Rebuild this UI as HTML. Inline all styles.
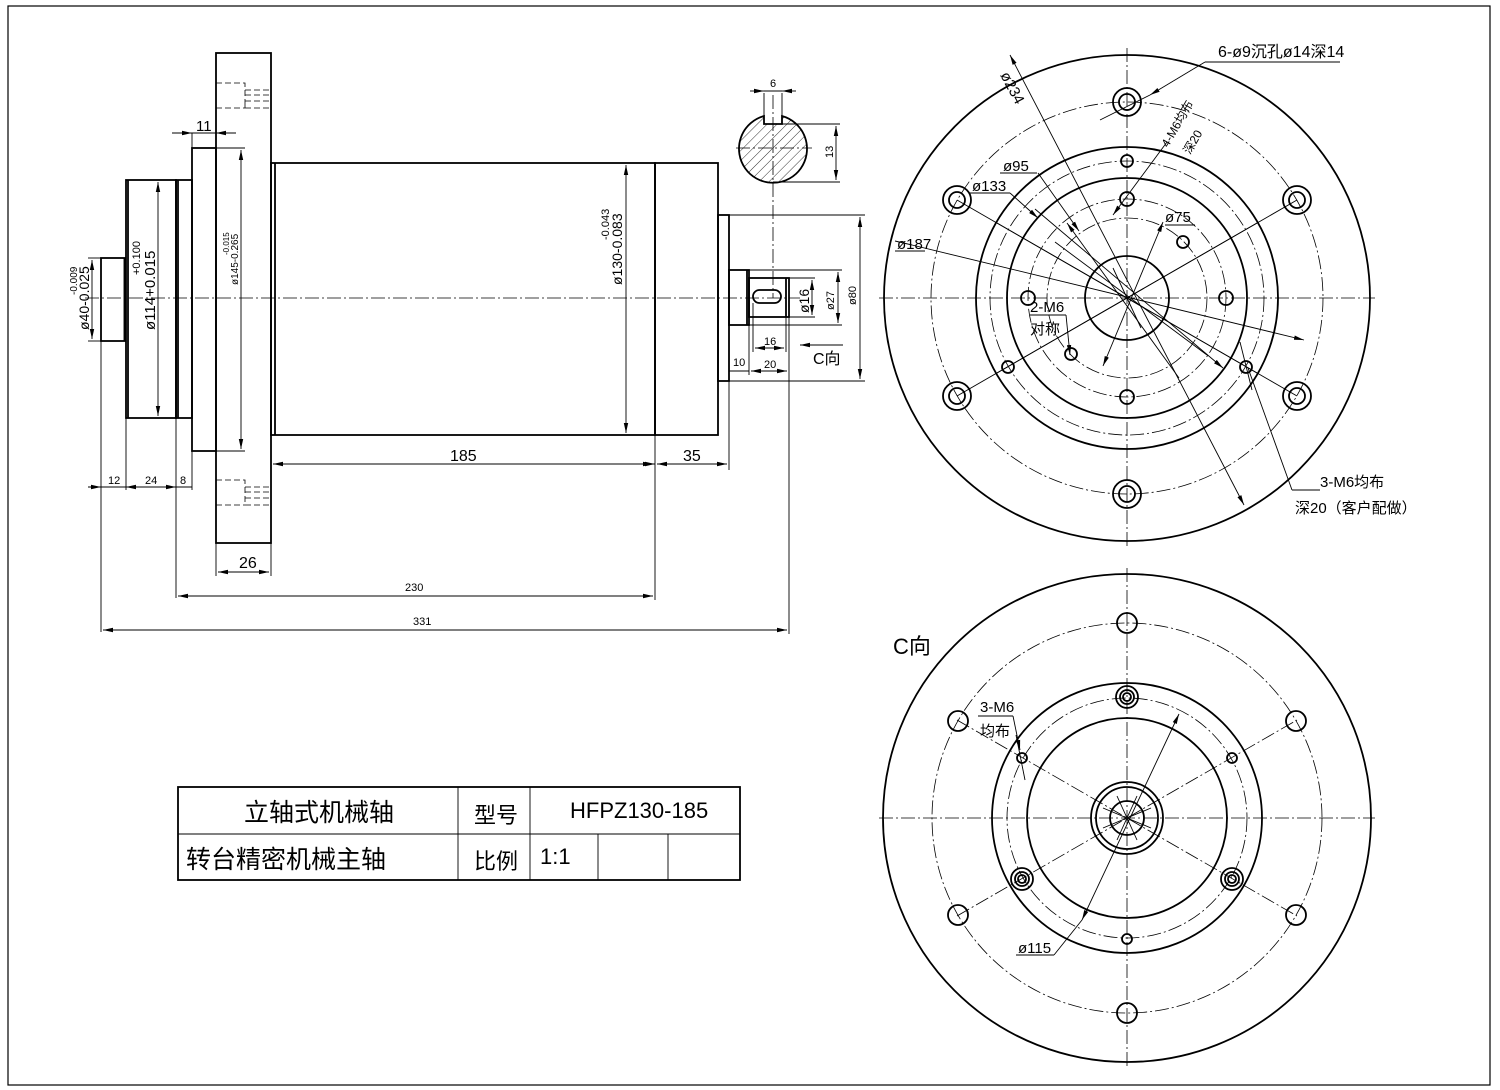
<!DOCTYPE html>
<html><head><meta charset="utf-8"><style>
html,body{margin:0;padding:0;background:#fff}
svg{display:block}
text{font-family:"Liberation Sans Narrow","Liberation Sans","Noto Sans CJK SC",sans-serif;fill:#000}
.o{stroke:#000;stroke-width:1.8;fill:none}
.t{stroke:#000;stroke-width:0.9;fill:none}
.c{stroke:#000;stroke-width:0.8;fill:none;stroke-dasharray:14,3,2,3}
.h{stroke:#000;stroke-width:0.8;fill:none;stroke-dasharray:6,3}
</style></head><body>
<svg width="1500" height="1090" viewBox="0 0 1500 1090" xmlns="http://www.w3.org/2000/svg">
<defs>
<marker id="a" viewBox="0 0 10 6" refX="10" refY="3" markerWidth="10" markerHeight="6" orient="auto-start-reverse" markerUnits="userSpaceOnUse"><path d="M0,0.8 L10,3 L0,5.2z" fill="#000"/></marker>
<pattern id="hp" width="7" height="7" patternUnits="userSpaceOnUse" patternTransform="rotate(45)"><line x1="0" y1="0" x2="0" y2="7" stroke="#000" stroke-width="0.8"/></pattern>
<clipPath id="kc"><path d="M764,116 A34,34 0 1 0 782,116 L782,124 L764,124 Z"/></clipPath>
</defs>
<rect x="8" y="6" width="1482" height="1079" fill="none" stroke="#000" stroke-width="1.2"/>

<!-- SIDE VIEW -->
<line class="c" x1="85" y1="298" x2="800" y2="298"/>
<rect class="o" x="101" y="258" width="24" height="83"/>
<line class="t" x1="124" y1="258" x2="124" y2="341"/>
<rect class="o" x="126" y="180" width="50" height="238"/>
<line class="o" x1="128" y1="180" x2="128" y2="418"/>
<rect class="o" x="176" y="180" width="16" height="238"/>
<line class="o" x1="178" y1="180" x2="178" y2="418"/>
<rect class="o" x="192" y="148" width="24" height="303"/>
<rect class="o" x="216" y="53" width="55" height="490"/>
<!-- counterbores -->
<path class="h" d="M216,83 H245 V90 H271 M245,90 V108 H271 M216,108 H245 V101 M245,95 H271 M245,101 H271"/>
<path class="h" d="M216,480 H245 V487 H271 M245,487 V505 H271 M216,505 H245 M245,492 H271 M245,498 H271"/>
<rect class="o" x="271" y="163" width="384" height="272"/>
<line class="o" x1="275" y1="163" x2="275" y2="435"/>
<rect class="o" x="655" y="163" width="63" height="272"/>
<rect class="o" x="718" y="215" width="11" height="166"/>
<rect class="o" x="729" y="270" width="20" height="55"/>
<line class="o" x1="747" y1="270" x2="747" y2="325"/>
<rect class="o" x="749" y="278" width="40" height="39"/>
<line class="o" x1="786" y1="278" x2="786" y2="317"/>
<rect class="o" x="753" y="290" width="28" height="13" rx="6.5"/>

<!-- dims side -->
<line class="t" x1="172" y1="133" x2="192" y2="133" marker-end="url(#a)"/>
<line class="t" x1="216" y1="133" x2="236" y2="133" marker-start="url(#a)"/>
<line class="t" x1="192" y1="133" x2="216" y2="133"/>
<text x="196" y="131" font-size="15">11</text>
<line class="t" x1="192" y1="133" x2="192" y2="148"/>
<line class="t" x1="158" y1="182" x2="158" y2="416" marker-start="url(#a)" marker-end="url(#a)"/>
<text transform="translate(155,330) rotate(-90)" font-size="15">ø114+0.015</text>
<text transform="translate(140,275) rotate(-90)" font-size="11">+0.100</text>
<line class="t" x1="216" y1="148" x2="245" y2="148"/><line class="t" x1="216" y1="451" x2="245" y2="451"/>
<line class="t" x1="241" y1="150" x2="241" y2="449" marker-start="url(#a)" marker-end="url(#a)"/>
<text transform="translate(238,285) rotate(-90)" font-size="10">ø145-0.265</text>
<text transform="translate(229,255) rotate(-90)" font-size="8">-0.015</text>
<line class="t" x1="92" y1="260" x2="92" y2="339" marker-start="url(#a)" marker-end="url(#a)"/>
<line class="t" x1="88" y1="258" x2="101" y2="258"/><line class="t" x1="88" y1="341" x2="101" y2="341"/>
<text transform="translate(89,330) rotate(-90)" font-size="14">ø40-0.025</text>
<text transform="translate(77,295) rotate(-90)" font-size="10">-0.009</text>
<line class="t" x1="626" y1="165" x2="626" y2="433" marker-start="url(#a)" marker-end="url(#a)"/>
<text transform="translate(622,285) rotate(-90)" font-size="14">ø130-0.083</text>
<text transform="translate(609,240) rotate(-90)" font-size="11">-0.043</text>
<!-- 185/35 -->
<line class="t" x1="271" y1="435" x2="271" y2="470"/>
<line class="t" x1="655" y1="435" x2="655" y2="470"/>
<line class="t" x1="729" y1="381" x2="729" y2="470"/>
<line class="t" x1="273" y1="464" x2="653" y2="464" marker-start="url(#a)" marker-end="url(#a)"/>
<text x="450" y="461" font-size="16">185</text>
<line class="t" x1="635" y1="464" x2="655" y2="464" marker-end="url(#a)"/>
<line class="t" x1="657" y1="464" x2="727" y2="464" marker-start="url(#a)" marker-end="url(#a)"/>
<text x="683" y="461" font-size="16">35</text>
<!-- 12 24 8 -->
<line class="t" x1="101" y1="341" x2="101" y2="632"/>
<line class="t" x1="126" y1="418" x2="126" y2="490"/>
<line class="t" x1="176" y1="418" x2="176" y2="598"/>
<line class="t" x1="192" y1="451" x2="192" y2="490"/>
<line class="t" x1="88" y1="487" x2="192" y2="487"/>
<line class="t" x1="88" y1="487" x2="101" y2="487" marker-end="url(#a)"/>
<line class="t" x1="126" y1="487" x2="146" y2="487" marker-start="url(#a)"/>
<line class="t" x1="156" y1="487" x2="176" y2="487" marker-end="url(#a)"/>
<text x="108" y="484" font-size="11">12</text><text x="145" y="484" font-size="11">24</text><text x="180" y="484" font-size="11">8</text>
<!-- 26 -->
<line class="t" x1="216" y1="543" x2="216" y2="576"/><line class="t" x1="271" y1="543" x2="271" y2="576"/>
<line class="t" x1="218" y1="572" x2="269" y2="572" marker-start="url(#a)" marker-end="url(#a)"/>
<text x="239" y="568" font-size="16">26</text>
<!-- 230 331 -->
<line class="t" x1="178" y1="596" x2="653" y2="596" marker-start="url(#a)" marker-end="url(#a)"/>
<line class="t" x1="655" y1="470" x2="655" y2="600"/>
<text x="405" y="591" font-size="11">230</text>
<line class="t" x1="103" y1="630" x2="787" y2="630" marker-start="url(#a)" marker-end="url(#a)"/>
<line class="t" x1="789" y1="317" x2="789" y2="634"/>
<text x="413" y="625" font-size="11">331</text>
<!-- shaft end dims -->
<line class="t" x1="729" y1="381" x2="865" y2="381"/><line class="t" x1="729" y1="215" x2="865" y2="215"/>
<line class="t" x1="860" y1="217" x2="860" y2="379" marker-start="url(#a)" marker-end="url(#a)"/>
<text transform="translate(856,305) rotate(-90)" font-size="11">ø80</text>
<line class="t" x1="749" y1="270" x2="842" y2="270"/><line class="t" x1="749" y1="325" x2="842" y2="325"/>
<line class="t" x1="838" y1="272" x2="838" y2="323" marker-start="url(#a)" marker-end="url(#a)"/>
<text transform="translate(834,310) rotate(-90)" font-size="11">ø27</text>
<line class="t" x1="789" y1="278" x2="815" y2="278"/><line class="t" x1="789" y1="317" x2="815" y2="317"/>
<line class="t" x1="812" y1="280" x2="812" y2="315" marker-start="url(#a)" marker-end="url(#a)"/>
<text transform="translate(809,313) rotate(-90)" font-size="14">ø16</text>
<line class="t" x1="753" y1="303" x2="753" y2="352"/><line class="t" x1="786" y1="317" x2="786" y2="352"/>
<line class="t" x1="755" y1="348" x2="784" y2="348" marker-start="url(#a)" marker-end="url(#a)"/>
<text x="764" y="345" font-size="11">16</text>
<line class="t" x1="749" y1="325" x2="749" y2="375"/>
<line class="t" x1="751" y1="371" x2="787" y2="371" marker-start="url(#a)" marker-end="url(#a)"/>
<text x="764" y="368" font-size="11">20</text>
<line class="t" x1="729" y1="371" x2="749" y2="371"/>
<text x="733" y="366" font-size="11">10</text>
<line class="t" x1="843" y1="345" x2="800" y2="345" marker-end="url(#a)"/>
<text x="813" y="364" font-size="16">C向</text>
<!-- key section -->
<line class="c" x1="773" y1="95" x2="773" y2="298"/>
<line class="c" x1="736" y1="148" x2="812" y2="148"/>
<rect x="735" y="110" width="80" height="80" fill="url(#hp)" clip-path="url(#kc)"/>
<path class="o" d="M764,116 A34,34 0 1 0 782,116 L782,124 L764,124 Z"/>
<line class="t" x1="764" y1="93" x2="764" y2="116"/><line class="t" x1="782" y1="93" x2="782" y2="116"/>
<line class="t" x1="750" y1="91" x2="764" y2="91" marker-end="url(#a)"/><line class="t" x1="796" y1="91" x2="782" y2="91" marker-end="url(#a)"/>
<line class="t" x1="764" y1="91" x2="782" y2="91"/>
<text x="770" y="87" font-size="11">6</text>
<line class="t" x1="782" y1="124" x2="840" y2="124"/><line class="t" x1="773" y1="182" x2="840" y2="182"/>
<line class="t" x1="836" y1="126" x2="836" y2="180" marker-start="url(#a)" marker-end="url(#a)"/>
<text transform="translate(833,158) rotate(-90)" font-size="11">13</text>

<!-- TITLE BLOCK -->
<rect class="o" x="178" y="787" width="562" height="93" stroke-width="1.3"/>
<line class="t" x1="178" y1="834" x2="740" y2="834"/>
<line class="t" x1="458" y1="787" x2="458" y2="880"/>
<line class="t" x1="530" y1="787" x2="530" y2="880"/>
<line class="t" x1="598" y1="834" x2="598" y2="880"/>
<line class="t" x1="668" y1="834" x2="668" y2="880"/>
<text x="244" y="821" font-size="25" font-family="Liberation Sans,Noto Sans CJK SC,sans-serif">立轴式机械轴</text>
<text x="186" y="868" font-size="25" font-family="Liberation Sans,Noto Sans CJK SC,sans-serif">转台精密机械主轴</text>
<text x="474" y="823" font-size="22" font-family="Liberation Sans,Noto Sans CJK SC,sans-serif">型号</text>
<text x="474" y="869" font-size="22" font-family="Liberation Sans,Noto Sans CJK SC,sans-serif">比例</text>
<text x="570" y="818" font-size="22">HFPZ130-185</text>
<text x="540" y="864" font-size="22" font-family="Liberation Serif,serif">1:1</text>

<!-- TOP FRONT VIEW -->
<g transform="translate(1127,298)">
<line class="c" x1="-248" y1="0" x2="248" y2="0"/>
<line class="c" x1="0" y1="-250" x2="0" y2="250"/>
<circle class="o" r="243"/>
<circle class="c" r="196"/>
<circle class="o" r="151"/>
<circle class="c" r="137"/>
<circle class="o" r="120"/>
<circle class="c" r="99"/>
<circle class="c" r="80"/>
<circle class="o" r="42"/>
<g class="t">
<line x1="-170" y1="-98" x2="170" y2="98"/><line x1="-170" y1="98" x2="170" y2="-98"/>
<line x1="-130" y1="75" x2="130" y2="-75"/><line x1="-130" y1="-75" x2="130" y2="75"/>
</g>
<g class="o">
<circle cx="0" cy="-196" r="14"/><circle cx="0" cy="-196" r="8"/>
<circle cx="0" cy="196" r="14"/><circle cx="0" cy="196" r="8"/>
<circle cx="-170" cy="-98" r="14"/><circle cx="-170" cy="-98" r="8"/>
<circle cx="170" cy="-98" r="14"/><circle cx="170" cy="-98" r="8"/>
<circle cx="-170" cy="98" r="14"/><circle cx="-170" cy="98" r="8"/>
<circle cx="170" cy="98" r="14"/><circle cx="170" cy="98" r="8"/>
<circle cx="0" cy="-137" r="6"/><circle cx="0" cy="-99" r="7"/><circle cx="0" cy="99" r="7"/>
<circle cx="-99" cy="0" r="7"/><circle cx="99" cy="0" r="7"/>
<circle cx="56" cy="-56" r="6"/><circle cx="-56" cy="56" r="6"/>
<circle cx="-119" cy="69" r="6"/><circle cx="119" cy="69" r="6"/>
</g>
<!-- radial dim leaders -->
<g class="t">
<line x1="-117" y1="-243" x2="117" y2="207" marker-start="url(#a)" marker-end="url(#a)"/>
<line x1="-215" y1="-53" x2="177" y2="42" marker-end="url(#a)"/>
<line x1="-215" y1="-53" x2="-232" y2="-57"/>
<line x1="-92" y1="-89" x2="96" y2="70" marker-end="url(#a)"/>
<line x1="-72" y1="-56" x2="80" y2="57"/>
<line x1="-60" y1="-75" x2="52" y2="80" marker-start="url(#a)"/>
<line x1="36" y1="-76" x2="-24" y2="68" marker-start="url(#a)" marker-end="url(#a)"/>
<line x1="-14" y1="-30" x2="14" y2="30"/>
</g>
</g>
<!-- top labels -->
<g class="t">
<line x1="1205" y1="62" x2="1340" y2="62"/>
<line x1="1205" y1="62" x2="1150" y2="95" marker-end="url(#a)"/>
<line x1="1150" y1="95" x2="1100" y2="120"/>
<line x1="1167" y1="142" x2="1113" y2="215" marker-end="url(#a)"/>
<line x1="1000" y1="173" x2="1037" y2="173"/><line x1="970" y1="193" x2="1010" y2="193"/>
<line x1="1038" y1="173" x2="1079" y2="231" marker-end="url(#a)"/>
<line x1="1010" y1="193" x2="1038" y2="218" marker-end="url(#a)"/>
<line x1="895" y1="251" x2="925" y2="251"/>
<line x1="1165" y1="225" x2="1195" y2="225"/>
<line x1="1030" y1="315" x2="1066" y2="315"/><line x1="1066" y1="315" x2="1070" y2="355" marker-end="url(#a)"/>
<line x1="1292" y1="490" x2="1320" y2="490"/>
<line x1="1292" y1="490" x2="1248" y2="368"/>
<line x1="1240" y1="342" x2="1252" y2="390"/>
</g>
<text x="1218" y="57" font-size="16">6-ø9沉孔ø14深14</text>
<text transform="translate(1000,75) rotate(62)" font-size="15">ø234</text>
<text x="1003" y="171" font-size="15">ø95</text>
<text x="972" y="191" font-size="15">ø133</text>
<text x="897" y="249" font-size="15">ø187</text>
<text x="1165" y="222" font-size="15">ø75</text>
<text transform="translate(1168,148) rotate(-60)" font-size="12">4-M6均布</text>
<text transform="translate(1190,155) rotate(-60)" font-size="12">深20</text>
<text x="1030" y="312" font-size="15">2-M6</text>
<text x="1030" y="334" font-size="15">对称</text>
<text x="1320" y="487" font-size="15">3-M6均布</text>
<text x="1295" y="513" font-size="15">深20（客户配做）</text>

<!-- C VIEW -->
<text x="893" y="654" font-size="22">C向</text>
<g transform="translate(1127,818)">
<line class="c" x1="-248" y1="0" x2="248" y2="0"/>
<line class="c" x1="0" y1="-250" x2="0" y2="250"/>
<circle class="o" r="244"/>
<circle class="c" r="195"/>
<circle class="o" r="135"/>
<circle class="c" r="120"/>
<circle class="o" r="100" stroke-width="2.6"/>
<circle class="o" r="36"/><circle class="o" r="31" stroke-width="2.4"/><circle class="o" r="17"/>
<g class="c">
<line x1="-170" y1="-98" x2="170" y2="98"/><line x1="-170" y1="98" x2="170" y2="-98"/>
</g>
<g class="t">
<line x1="-24" y1="-10" x2="24" y2="10"/><line x1="-24" y1="10" x2="24" y2="-10"/>
<line x1="-10" y1="-22" x2="10" y2="22"/><line x1="10" y1="-22" x2="-10" y2="22"/>
<line x1="52" y1="-104" x2="-45" y2="102" marker-start="url(#a)" marker-end="url(#a)"/>
</g>
<g class="o">
<circle cx="0" cy="-195" r="10"/><circle cx="0" cy="195" r="10"/>
<circle cx="-169" cy="-97" r="10"/><circle cx="169" cy="-97" r="10"/>
<circle cx="-169" cy="97" r="10"/><circle cx="169" cy="97" r="10"/>
<circle cx="0" cy="-121" r="11"/><circle cx="0" cy="-121" r="7"/><circle cx="0" cy="-121" r="4"/>
<circle cx="-105" cy="61" r="11"/><circle cx="-105" cy="61" r="7"/><circle cx="-105" cy="61" r="4"/>
<circle cx="105" cy="61" r="11"/><circle cx="105" cy="61" r="7"/><circle cx="105" cy="61" r="4"/>
<circle cx="-105" cy="-60" r="5"/><circle cx="105" cy="-60" r="5"/><circle cx="0" cy="121" r="5"/>
</g>
</g>
<g class="t">
<line x1="978" y1="716" x2="1013" y2="716"/><line x1="1013" y1="716" x2="1020" y2="750" marker-end="url(#a)"/>
<line x1="1016" y1="735" x2="1025" y2="780"/>
<line x1="1016" y1="955" x2="1054" y2="955"/><line x1="1054" y1="955" x2="1082" y2="920"/>
</g>
<text x="980" y="712" font-size="15">3-M6</text>
<text x="980" y="736" font-size="15">均布</text>
<text x="1018" y="953" font-size="15">ø115</text>
</svg>
</body></html>
